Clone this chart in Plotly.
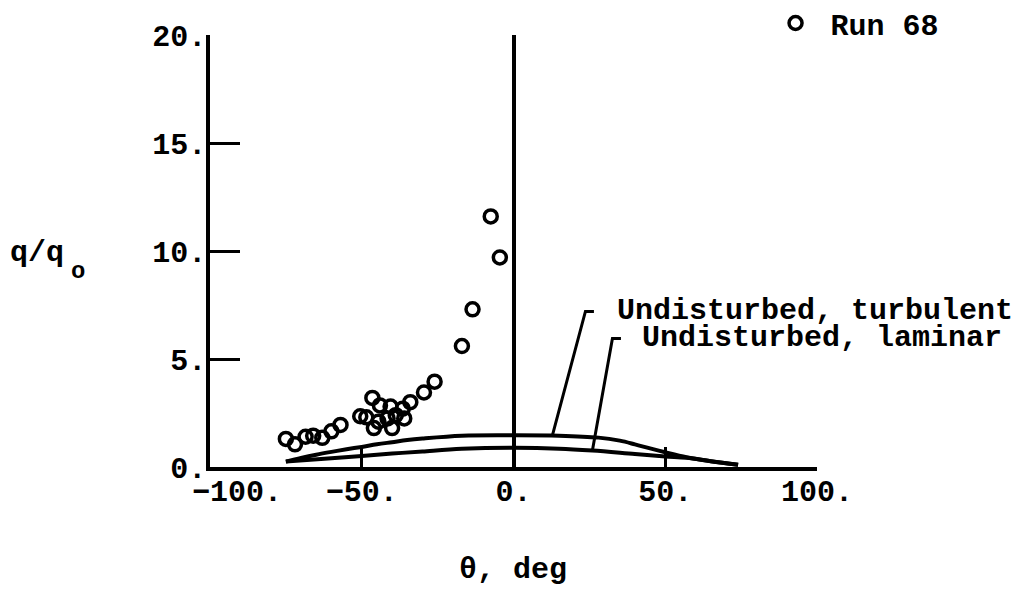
import numpy as np
import plotly.graph_objects as go

# Measured heating ratio, Run 68
theta_run68 = [-75, -72, -68.5, -66, -63, -60, -57, -50.5, -48.5, -46.5, -46, -44.5, -44,
               -41.5, -40.5, -40, -38.8, -36.5, -36, -34, -29.5, -26, -17, -13.5, -7.5, -4.5]
q_run68 = [1.3, 1.05, 1.4, 1.45, 1.35, 1.65, 1.95, 2.35, 2.3, 3.2, 1.8, 2.1, 2.85,
           2.25, 2.8, 1.8, 2.4, 2.7, 2.25, 3.0, 3.45, 3.95, 5.6, 7.3, 11.6, 9.7]

# Undisturbed distributions
theta_turb = [-75, -70, -65, -60, -55, -50, -45, -40, -35, -30, -17, 0, 15, 28, 35, 40, 45, 50, 57, 65, 74]
q_turb = [0.25, 0.42, 0.57, 0.7, 0.82, 0.93, 1.05, 1.15, 1.25, 1.32, 1.45, 1.47, 1.45, 1.36, 1.22, 1.05, 0.86, 0.68, 0.45, 0.27, 0.1]
theta_lam = [-75, -60, -50, -40, -30, -17, 0, 15, 26, 40, 50, 57, 65, 74]
q_lam = [0.25, 0.41, 0.51, 0.62, 0.72, 0.84, 0.89, 0.85, 0.76, 0.6, 0.49, 0.43, 0.27, 0.1]

x_ticks = [-100, -50, 0, 50, 100]
# the -100 label sits a little right of its tick, clear of the y-axis
x_ticklabels = ["\u00a0\u00a0\u00a0\u2212100.", "\u221250.", "0.", "50.", "100."]
y_ticks = [0, 5, 10, 15, 20]
y_ticklabels = ["0.", "5.", "10.", "15.", "20."]

FONT = dict(family="Liberation Mono", size=30, color="black", weight="bold")

fig = go.Figure()
fig.add_trace(go.Scatter(x=theta_turb, y=q_turb, mode="lines",
                         line=dict(color="black", width=4, shape="spline"),
                         showlegend=False, hoverinfo="skip"))
fig.add_trace(go.Scatter(x=theta_lam, y=q_lam, mode="lines",
                         line=dict(color="black", width=4, shape="spline"),
                         showlegend=False, hoverinfo="skip"))
fig.add_trace(go.Scatter(x=theta_run68, y=q_run68, mode="markers", name="Run 68",
                         marker=dict(symbol="circle-open", size=13, color="black",
                                     line=dict(width=3.5, color="black"))))

# Leader lines: short hook at the label, then down to the curve
def leader(x_hook, y_hook, x_curve, xs, ys):
    y_curve = float(np.interp(x_curve, xs, ys))
    return (f"M {x_hook + 2.8},{y_hook} L {x_hook},{y_hook} "
            f"L {x_curve},{y_curve}")

fig.add_shape(type="path", path=leader(23.7, 7.2, 12.8, theta_turb, q_turb),
              line=dict(color="black", width=3))
fig.add_shape(type="path", path=leader(32.6, 5.95, 26.0, theta_lam, q_lam),
              line=dict(color="black", width=3))

fig.add_annotation(x=33.5, y=7.2, text="Undisturbed, turbulent", showarrow=False,
                   xanchor="left", yanchor="middle", font=FONT)
fig.add_annotation(x=41.8, y=5.95, text="Undisturbed, laminar", showarrow=False,
                   xanchor="left", yanchor="middle", font=FONT)

# Axis titles
fig.add_annotation(xref="paper", yref="paper", x=(513 - 210) / 607, y=(467 - 570) / 432,
                   text="\u03b8, deg", showarrow=False, xanchor="center", yanchor="middle",
                   font=FONT)
fig.add_annotation(xref="paper", yref="paper", x=(8 - 210) / 607, y=(467 - 253) / 432,
                   text="q/q", showarrow=False, xanchor="left", yanchor="middle",
                   font=FONT)
fig.add_annotation(xref="paper", yref="paper", x=(78 - 210) / 607, y=(467 - 271) / 432,
                   text="o", showarrow=False, xanchor="center", yanchor="middle",
                   font=dict(family="Liberation Mono", size=24, color="black", weight="bold"))

fig.update_layout(
    width=1020, height=610,
    margin=dict(l=210, r=203, t=35, b=143, autoexpand=False),
    paper_bgcolor="white", plot_bgcolor="white",
    font=FONT,
    showlegend=True,
    legend=dict(x=0.907, y=1.088, xanchor="left", yanchor="top",
                bgcolor="rgba(0,0,0,0)", font=FONT, itemwidth=60),
    xaxis=dict(range=[-100, 100], tickvals=x_ticks, ticktext=x_ticklabels,
               showgrid=False, showline=True, linecolor="black", linewidth=3.5,
               ticks="inside", ticklen=20, tickwidth=3, tickcolor="black",
               zeroline=True, zerolinecolor="black", zerolinewidth=3.5,
               tickfont=FONT, ticklabelstandoff=-6),
    yaxis=dict(range=[0, 20], tickvals=y_ticks, ticktext=y_ticklabels,
               showgrid=False, showline=True, linecolor="black", linewidth=3.5,
               ticks="inside", ticklen=30, tickwidth=3, tickcolor="black",
               zeroline=False, tickfont=FONT, ticklabelstandoff=-6),
)

fig.write_html("out.html")
